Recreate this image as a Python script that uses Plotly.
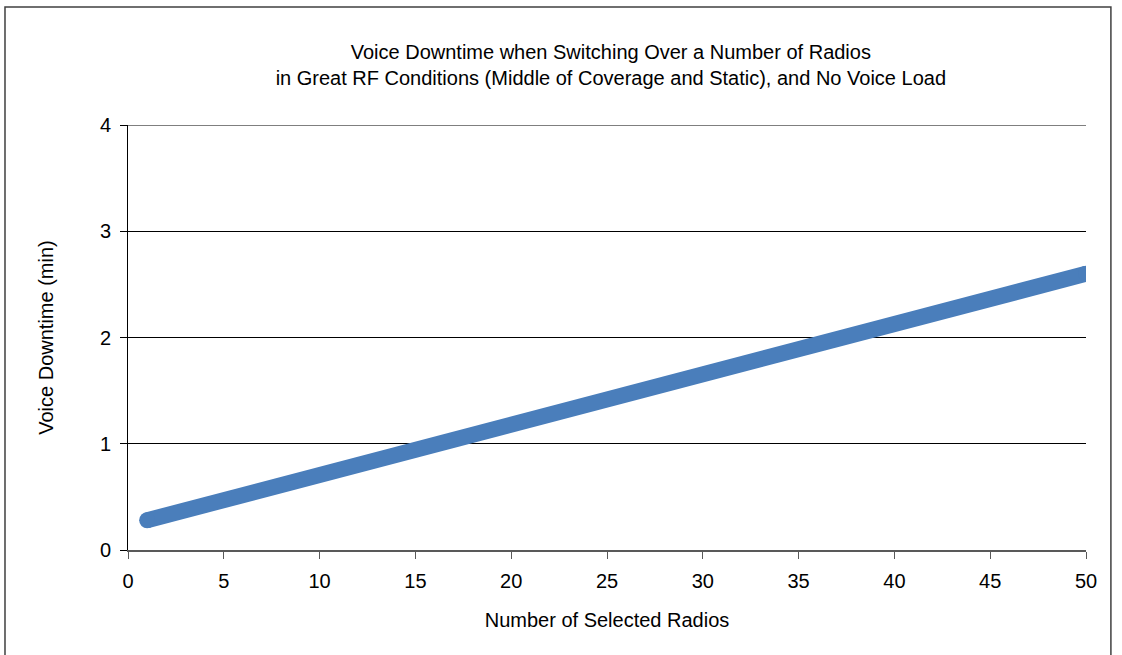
import plotly.graph_objects as go

radios = [1, 5, 10, 15, 20, 25, 30, 35, 40, 45, 50]
downtime = [0.28, 0.47, 0.70, 0.94, 1.18, 1.41, 1.65, 1.89, 2.13, 2.36, 2.60]

title_lines = ["Voice Downtime when Switching Over a Number of Radios",
               "in Great RF Conditions (Middle of Coverage and Static), and No Voice Load"]
x_title = "Number of Selected Radios"
y_title = "Voice Downtime (min)"
x_ticks = [0, 5, 10, 15, 20, 25, 30, 35, 40, 45, 50]
y_ticks = [0, 1, 2, 3, 4]

color = "#4a7ebb"
font = "Liberation Sans, Arial, sans-serif"

fig = go.Figure()
fig.add_trace(go.Scatter(x=radios, y=downtime, mode="lines",
                         line=dict(color=color, width=16), showlegend=False,
                         hoverinfo="x+y"))
fig.add_trace(go.Scatter(x=[radios[0], radios[-1]], y=[downtime[0], downtime[-1]],
                         mode="markers", marker=dict(color=color, size=16, line=dict(width=0)),
                         showlegend=False, hoverinfo="skip"))

fig.update_layout(
    width=1122, height=655,
    margin=dict(l=128, r=36, t=125, b=105),
    paper_bgcolor="white", plot_bgcolor="white",
    font=dict(family=font, size=20, color="#000000"),
    title=dict(text="<br>".join(title_lines), x=0.504, xref="paper", xanchor="center",
               y=0.91, yanchor="top", font=dict(size=20, family=font)),
    xaxis=dict(range=[0, 50], tickvals=x_ticks, ticks="outside", ticklen=7,
               tickcolor="#595959", showline=True, linecolor="#595959", linewidth=2,
               showgrid=False, zeroline=False, ticklabelstandoff=5,
               title=dict(text=x_title, font=dict(size=20), standoff=22)),
    yaxis=dict(range=[0, 4], tickvals=y_ticks, ticks="outside", ticklen=7,
               tickcolor="#000000", showline=True, linecolor="#000000", linewidth=1,
               showgrid=True, gridcolor="#000000", gridwidth=1, zeroline=False,
               ticklabelstandoff=5,
               title=dict(text=y_title, font=dict(size=20), standoff=40)),
)

fig.add_shape(type="line", xref="paper", yref="y", x0=0, x1=1,
              y0=y_ticks[-1], y1=y_ticks[-1], line=dict(color="#000000", width=1), layer="below")

fig.add_shape(type="rect", xref="paper", yref="paper",
              x0=-0.1284, x1=1.026, y0=-0.26, y1=1.2776,
              line=dict(color="#404040", width=1.5), fillcolor="rgba(0,0,0,0)", layer="below")

fig.write_html("out.html", config={"displayModeBar": False},
               post_script="document.body.style.margin='0';")
